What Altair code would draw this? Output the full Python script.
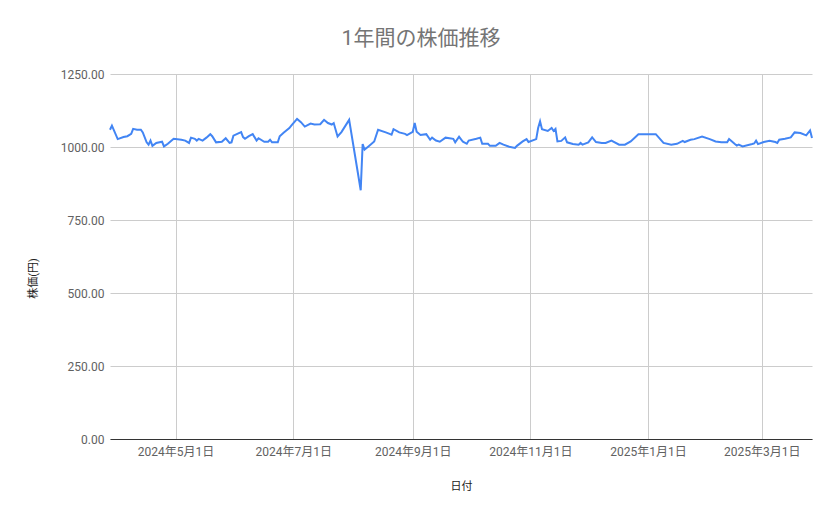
import altair as alt
import pandas as pd

dates = [
    "2024-03-28", "2024-03-29", "2024-04-01", "2024-04-04", "2024-04-06", "2024-04-08",
    "2024-04-09", "2024-04-11", "2024-04-13", "2024-04-14", "2024-04-16", "2024-04-17",
    "2024-04-18", "2024-04-19", "2024-04-21", "2024-04-24", "2024-04-25", "2024-04-27",
    "2024-04-30", "2024-05-04", "2024-05-06", "2024-05-08", "2024-05-09", "2024-05-11",
    "2024-05-12", "2024-05-13", "2024-05-15", "2024-05-17", "2024-05-19", "2024-05-20",
    "2024-05-22", "2024-05-25", "2024-05-27", "2024-05-29", "2024-05-30", "2024-05-31",
    "2024-06-02", "2024-06-04", "2024-06-05", "2024-06-06", "2024-06-08", "2024-06-10",
    "2024-06-12", "2024-06-13", "2024-06-16", "2024-06-18", "2024-06-19", "2024-06-20",
    "2024-06-23", "2024-06-24", "2024-06-26", "2024-06-29", "2024-06-30", "2024-07-03",
    "2024-07-05", "2024-07-07", "2024-07-10", "2024-07-12", "2024-07-15", "2024-07-17",
    "2024-07-19", "2024-07-21", "2024-07-22", "2024-07-24", "2024-07-26", "2024-07-30",
    "2024-08-05", "2024-08-06", "2024-08-07", "2024-08-09", "2024-08-12", "2024-08-14",
    "2024-08-18", "2024-08-20", "2024-08-21", "2024-08-22", "2024-08-25", "2024-08-28",
    "2024-08-29", "2024-09-01", "2024-09-02", "2024-09-03", "2024-09-05", "2024-09-08",
    "2024-09-10", "2024-09-11", "2024-09-13", "2024-09-15", "2024-09-18", "2024-09-22",
    "2024-09-23", "2024-09-25", "2024-09-27", "2024-09-29", "2024-09-30", "2024-10-04",
    "2024-10-06", "2024-10-07", "2024-10-10", "2024-10-11", "2024-10-14", "2024-10-16",
    "2024-10-18", "2024-10-21", "2024-10-24", "2024-10-25", "2024-10-28", "2024-10-30",
    "2024-10-31", "2024-11-04", "2024-11-05", "2024-11-06", "2024-11-07", "2024-11-10",
    "2024-11-12", "2024-11-13", "2024-11-14", "2024-11-15", "2024-11-17", "2024-11-19",
    "2024-11-20", "2024-11-23", "2024-11-26", "2024-11-27", "2024-11-28", "2024-12-01",
    "2024-12-03", "2024-12-05", "2024-12-08", "2024-12-10", "2024-12-13", "2024-12-17",
    "2024-12-20", "2024-12-23", "2024-12-27", "2025-01-01", "2025-01-05", "2025-01-09",
    "2025-01-13", "2025-01-16", "2025-01-19", "2025-01-20", "2025-01-23", "2025-01-25",
    "2025-01-29", "2025-02-02", "2025-02-05", "2025-02-08", "2025-02-11", "2025-02-12",
    "2025-02-15", "2025-02-16", "2025-02-17", "2025-02-19", "2025-02-24", "2025-02-25",
    "2025-02-26", "2025-02-27", "2025-03-02", "2025-03-05", "2025-03-08", "2025-03-09",
    "2025-03-10", "2025-03-13", "2025-03-16", "2025-03-18", "2025-03-21", "2025-03-24",
    "2025-03-26", "2025-03-27",
]

prices = [
    1059, 1073, 1027, 1034, 1037, 1045,
    1062, 1059, 1059, 1050, 1016, 1008,
    1022, 1004, 1014, 1018, 1002, 1011,
    1028, 1025, 1022, 1014, 1032, 1028,
    1022, 1028, 1022, 1032, 1044, 1037,
    1016, 1018, 1030, 1014, 1016, 1039,
    1045, 1051, 1034, 1028, 1037, 1044,
    1022, 1030, 1018, 1018, 1025, 1016,
    1016, 1037, 1049, 1065, 1073, 1096,
    1085, 1070, 1080, 1077, 1078, 1093,
    1082, 1077, 1082, 1036, 1051, 1093,
    852, 1010, 991, 1002, 1019, 1059,
    1050, 1045, 1042, 1061, 1050, 1045,
    1041, 1052, 1082, 1052, 1041, 1044,
    1025, 1032, 1022, 1018, 1032, 1028,
    1016, 1035, 1018, 1011, 1022, 1028,
    1032, 1011, 1011, 1004, 1004, 1014,
    1008, 1001, 997, 1004, 1019, 1027,
    1017, 1027, 1065, 1088, 1061, 1055,
    1065, 1055, 1062, 1019, 1021, 1033,
    1016, 1010, 1008, 1014, 1008, 1016,
    1033, 1017, 1014, 1014, 1022, 1008,
    1008, 1019, 1044, 1044, 1044, 1014,
    1008, 1011, 1021, 1017, 1025, 1027,
    1036, 1027, 1019, 1016, 1016, 1027,
    1010, 1005, 1008, 1002, 1010, 1012,
    1022, 1010, 1017, 1021, 1017, 1014,
    1025, 1028, 1033, 1050, 1048, 1040,
    1057, 1031,
]

y_ticks = [0, 250, 500, 750, 1000, 1250]
x_ticks = [(2024, 5), (2024, 7), (2024, 9), (2024, 11), (2025, 1), (2025, 3)]

df = pd.DataFrame({"日付": dates, "株価": prices})

FONT = "Roboto, 'Noto Sans CJK JP', sans-serif"

chart = (
    alt.Chart(df)
    .mark_line(color="#4285F4", strokeWidth=2)
    .encode(
        x=alt.X(
            "日付:T",
            scale=alt.Scale(
                type="utc",
                domain=[
                    alt.DateTime(year=2024, month=3, date=28, utc=True),
                    alt.DateTime(year=2025, month=3, date=27, utc=True),
                ],
                nice=False,
            ),
            axis=alt.Axis(
                title="日付",
                values=[alt.DateTime(year=y, month=m, date=1, utc=True) for y, m in x_ticks],
                labelExpr="utcFormat(datum.value, '%Y年%-m月%-d日')",
                grid=True,
                gridColor="#cccccc",
                ticks=False,
                domainColor="#333333",
                domainWidth=1,
                labelPadding=7,
                titleY=47,
                titleBaseline="middle",
            ),
        ),
        y=alt.Y(
            "株価:Q",
            scale=alt.Scale(domain=[0, 1250], nice=False),
            axis=alt.Axis(
                title="株価(円)",
                values=y_ticks,
                format=".2f",
                grid=True,
                gridColor="#cccccc",
                ticks=False,
                domain=False,
                labelPadding=6,
                titleX=-77,
                titleY=204,
                titleBaseline="middle",
                titleAngle=-90,
            ),
        ),
    )
    .properties(
        width=702,
        height=365,
        autosize="none",
        padding={"left": 102, "top": 66, "right": 15, "bottom": 62},
        title=alt.TitleParams(
            text="1年間の株価推移",
            anchor="middle",
            frame="group",
            dx=-40,
            offset=19,
            fontSize=21,
            fontWeight="normal",
            color="#757575",
            font=FONT,
        ),
    )
    .configure_view(stroke=None)
    .configure_axis(
        labelFont=FONT,
        titleFont=FONT,
        labelFontSize=12,
        labelColor="#616161",
        titleFontSize=11,
        titleColor="#222222",
        titleFontWeight="normal",
    )
)

chart.save("out.html", embed_options={"renderer": "svg", "actions": False})
